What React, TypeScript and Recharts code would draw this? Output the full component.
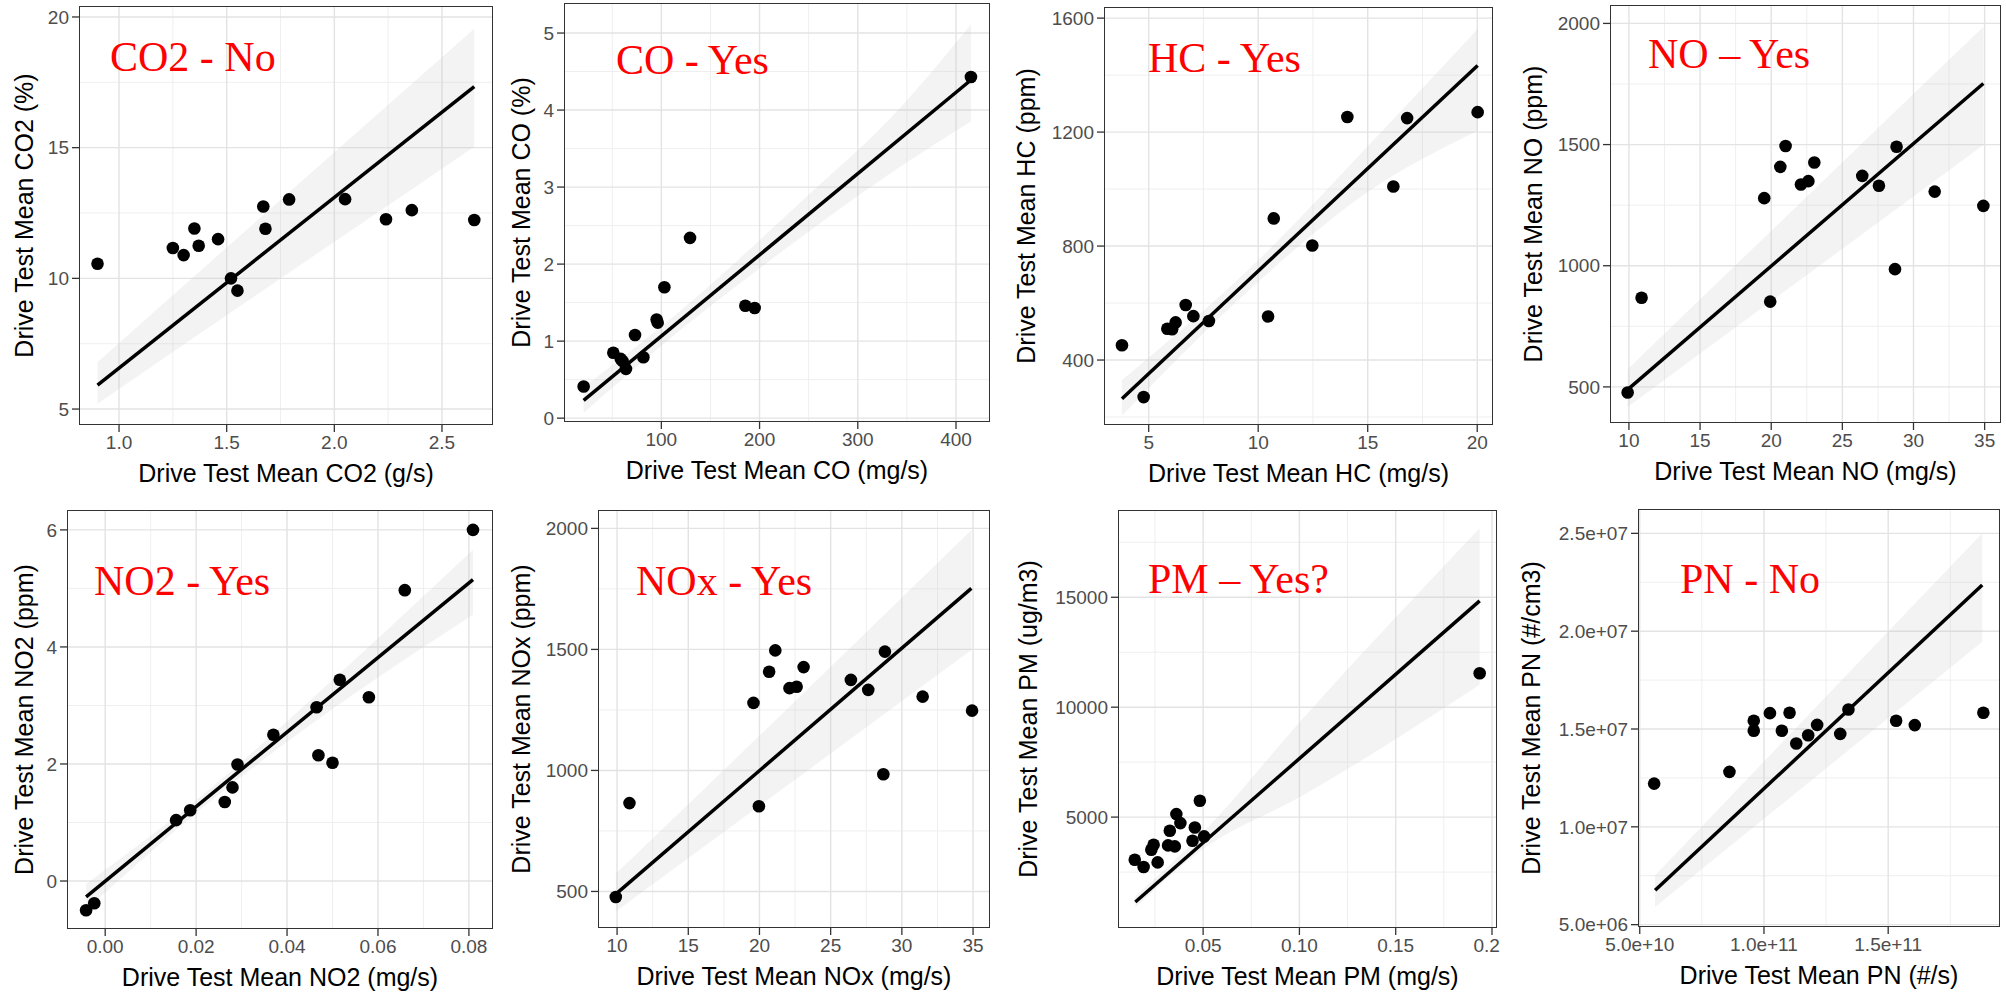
import React from "react";
import {
  ComposedChart,
  XAxis,
  YAxis,
  CartesianGrid,
  Line,
  Area,
  Scatter,
} from "recharts";

// ---- CO2 ----
const co2X = [0.9, 1.25, 1.3, 1.35, 1.37, 1.46, 1.52, 1.55, 1.67, 1.68, 1.79, 2.05, 2.24, 2.36, 2.65];
const co2Y = [10.56, 11.16, 10.89, 11.91, 11.25, 11.5, 10.0, 9.53, 12.75, 11.9, 13.02, 13.03, 12.26, 12.61, 12.23];
const co2FitX = [0.9, 2.65];
const co2FitY = [5.92, 17.34];
const co2BandX = [0.9, 1.6, 2.65];
const co2BandLo = [5.2, 9.15, 15.04];
const co2BandHi = [6.79, 11.91, 19.55];

// ---- CO ----
const coX = [20.9, 51.1, 58.6, 60.6, 64.0, 73.2, 81.7, 95.2, 96.3, 103.1, 129.2, 185.5, 195.0, 415.2];
const coY = [0.41, 0.85, 0.77, 0.74, 0.64, 1.08, 0.79, 1.28, 1.24, 1.7, 2.34, 1.46, 1.43, 4.43];
const coFitX = [20.9, 415.2];
const coFitY = [0.23, 4.39];
const coBandX = [20.9, 120, 250, 330, 415.2];
const coBandLo = [0.07, 1.15, 2.42, 3.15, 3.85];
const coBandHi = [0.4, 1.4, 2.9, 3.85, 5.11];

// ---- HC ----
const hcX = [3.78, 4.77, 5.85, 6.07, 6.23, 6.69, 7.04, 7.75, 10.45, 10.71, 12.47, 14.07, 16.17, 16.8, 20.02];
const hcY = [452, 270, 510, 508, 532, 593, 554, 537, 553, 897, 802, 1253, 1009, 1249, 1270];
const hcFitX = [3.78, 20.02];
const hcFitY = [264, 1434];
const hcBandX = [3.78, 10, 15, 20.02];
const hcBandLo = [205, 675, 990, 1205];
const hcBandHi = [330, 750, 1150, 1562];

// ---- NO ----
const noX = [9.91, 10.89, 19.51, 19.93, 20.64, 21.01, 22.09, 22.61, 23.03, 26.4, 27.57, 28.7, 28.81, 31.49, 34.91];
const noY = [477, 868, 1279, 852, 1408, 1494, 1335, 1349, 1426, 1371, 1330, 986, 1491, 1306, 1247];
const noFitX = [9.91, 34.91];
const noFitY = [489, 1752];
const noBandX = [9.91, 22, 34.91];
const noBandLo = [417, 940, 1498];
const noBandHi = [573, 1257, 1986];

// ---- NO2 ----
const no2X = [-0.0042, -0.0024, 0.0156, 0.0187, 0.0263, 0.028, 0.0291, 0.037, 0.0465, 0.0469, 0.05, 0.0516, 0.058, 0.0659, 0.0809];
const no2Y = [-0.5, -0.38, 1.04, 1.21, 1.35, 1.6, 1.99, 2.5, 2.97, 2.15, 2.02, 3.44, 3.14, 4.97, 6.0];
const no2FitX = [-0.0042, 0.0809];
const no2FitY = [-0.27, 5.15];
const no2BandX = [-0.0042, 0.025, 0.045, 0.0809];
const no2BandLo = [-0.49, 1.48, 2.66, 4.55];
const no2BandHi = [-0.05, 1.7, 3.08, 5.66];

// ---- NOx ----
const noxX = [9.91, 10.87, 19.58, 19.96, 20.68, 21.11, 22.11, 22.61, 23.1, 26.42, 27.64, 28.7, 28.81, 31.46, 34.93];
const noxY = [477, 865, 1279, 852, 1408, 1496, 1340, 1346, 1427, 1374, 1333, 984, 1491, 1305, 1247];
const noxFitX = [9.91, 34.88];
const noxFitY = [489, 1752];
const noxBandX = [9.91, 22, 34.88];
const noxBandLo = [417, 940, 1498];
const noxBandHi = [573, 1257, 1993];

// ---- PM ----
const pmX = [0.0145, 0.0191, 0.0231, 0.0243, 0.0264, 0.0318, 0.0327, 0.0353, 0.0361, 0.0382, 0.0445, 0.0457, 0.0483, 0.0505, 0.1936];
const pmY = [3061, 2727, 3515, 3742, 2939, 3712, 4379, 3667, 5136, 4727, 3924, 4530, 5742, 4121, 11545];
const pmFitX = [0.0148, 0.1936];
const pmFitY = [1136, 14833];
const pmBandX = [0.0148, 0.05, 0.1, 0.1936];
const pmBandLo = [900, 3550, 5900, 11015];
const pmBandHi = [1400, 4300, 9300, 18136];

// ---- PN ----
const pnX = [5.58e10, 8.61e10, 9.59e10, 9.59e10, 1.024e11, 1.072e11, 1.103e11, 1.13e11, 1.178e11, 1.214e11, 1.307e11, 1.34e11, 1.532e11, 1.607e11, 1.883e11];
const pnY = [1.221e7, 1.281e7, 1.542e7, 1.491e7, 1.581e7, 1.491e7, 1.583e7, 1.426e7, 1.468e7, 1.521e7, 1.475e7, 1.6e7, 1.542e7, 1.52e7, 1.583e7];
const pnFitX = [5.62e10, 1.8785e11];
const pnFitY = [6.76e6, 2.236e7];
const pnBandX = [5.62e10, 1.2e11, 1.8785e11];
const pnBandLo = [5.9e6, 1.247e7, 1.946e7];
const pnBandHi = [7.52e6, 1.6e7, 2.5e7];

// ticks
const co2XTicks = [1.0, 1.5, 2.0, 2.5];
const co2XMinor = [1.25, 1.75, 2.25];
const co2YTicks = [5, 10, 15, 20];
const co2YMinor = [7.5, 12.5, 17.5];
const coXTicks = [100, 200, 300, 400];
const coXMinor = [50, 150, 250, 350];
const coYTicks = [0, 1, 2, 3, 4, 5];
const coYMinor = [0.5, 1.5, 2.5, 3.5, 4.5];
const hcXTicks = [5, 10, 15, 20];
const hcXMinor = [7.5, 12.5, 17.5];
const hcYTicks = [400, 800, 1200, 1600];
const hcYMinor = [200, 600, 1000, 1400];
const noXTicks = [10, 15, 20, 25, 30, 35];
const noXMinor = [12.5, 17.5, 22.5, 27.5, 32.5];
const noYTicks = [500, 1000, 1500, 2000];
const noYMinor = [750, 1250, 1750];
const no2XTicks = [0, 0.02, 0.04, 0.06, 0.08];
const no2XMinor = [0.01, 0.03, 0.05, 0.07];
const no2YTicks = [0, 2, 4, 6];
const no2YMinor = [1, 3, 5];
const pmXTicks = [0.05, 0.1, 0.15, 0.2];
const pmXMinor = [0.025, 0.075, 0.125, 0.175];
const pmYTicks = [5000, 10000, 15000];
const pmYMinor = [2500, 7500, 12500, 17500];
const pnXTicks = [5e10, 1e11, 1.5e11];
const pnXMinor = [7.5e10, 1.25e11, 1.75e11];
const pnYTicks = [5e6, 1e7, 1.5e7, 2e7, 2.5e7];
const pnYMinor = [7.5e6, 1.25e7, 1.75e7, 2.25e7];

const SANS = '"Liberation Sans", Arial, Helvetica, sans-serif';
const SERIF = '"Liberation Serif", "Times New Roman", serif';

const fix = (d: number) => (v: number) => v.toFixed(d);
const plain = (v: number) => String(v);
const sci = (v: number) => {
  const [m, e] = v.toExponential(1).split("e");
  const sign = e[0] === "-" ? "-" : "+";
  const num = e.replace(/[+-]/, "");
  return `${m}e${sign}${num.padStart(2, "0")}`;
};

const pts = (xs: number[], ys: number[]) => xs.map((x, i) => ({ x, y: ys[i] }));
const band = (xs: number[], lo: number[], hi: number[]) =>
  xs.map((x, i) => ({ x, range: [lo[i], hi[i]] }));

type Box = { l: number; t: number; r: number; b: number };

const panels = [
  {
    px: 0, py: 0, pw: 500, box: { l: 79, t: 6, r: 493, b: 425 },
    xDomain: [0.814, 2.737], yDomain: [4.39, 20.42],
    xTicks: co2XTicks, xMinor: co2XMinor, yTicks: co2YTicks, yMinor: co2YMinor,
    xFmt: fix(1), yFmt: plain,
    points: pts(co2X, co2Y), fit: pts(co2FitX, co2FitY), band: band(co2BandX, co2BandLo, co2BandHi),
    label: "CO2 - No", labelX: 110, labelY: 71,
    xTitle: "Drive Test Mean CO2 (g/s)", yTitle: "Drive Test Mean CO2 (%)", yTitleX: 33,
  },
  {
    px: 500, py: 0, pw: 500, box: { l: 564, t: 3, r: 990, b: 422 },
    xDomain: [0.9, 434.6], yDomain: [-0.05, 5.39],
    xTicks: coXTicks, xMinor: coXMinor, yTicks: coYTicks, yMinor: coYMinor,
    xFmt: plain, yFmt: plain,
    points: pts(coX, coY), fit: pts(coFitX, coFitY), band: band(coBandX, coBandLo, coBandHi),
    label: "CO - Yes", labelX: 616, labelY: 74,
    xTitle: "Drive Test Mean CO (mg/s)", yTitle: "Drive Test Mean CO (%)", yTitleX: 530,
  },
  {
    px: 1000, py: 0, pw: 500, box: { l: 1104, t: 7, r: 1493, b: 425 },
    xDomain: [2.96, 20.72], yDomain: [172, 1639],
    xTicks: hcXTicks, xMinor: hcXMinor, yTicks: hcYTicks, yMinor: hcYMinor,
    xFmt: plain, yFmt: plain,
    points: pts(hcX, hcY), fit: pts(hcFitX, hcFitY), band: band(hcBandX, hcBandLo, hcBandHi),
    label: "HC - Yes", labelX: 1148, labelY: 72,
    xTitle: "Drive Test Mean HC (mg/s)", yTitle: "Drive Test Mean HC (ppm)", yTitleX: 1035,
  },
  {
    px: 1500, py: 0, pw: 506, box: { l: 1610, t: 5, r: 2001, b: 423 },
    xDomain: [8.67, 36.15], yDomain: [351, 2076],
    xTicks: noXTicks, xMinor: noXMinor, yTicks: noYTicks, yMinor: noYMinor,
    xFmt: plain, yFmt: plain,
    points: pts(noX, noY), fit: pts(noFitX, noFitY), band: band(noBandX, noBandLo, noBandHi),
    label: "NO \u2013 Yes", labelX: 1648, labelY: 68,
    xTitle: "Drive Test Mean NO (mg/s)", yTitle: "Drive Test Mean NO (ppm)", yTitleX: 1542,
  },
  {
    px: 0, py: 495, pw: 500, box: { l: 67, t: 510, r: 493, b: 929 },
    xDomain: [-0.0084, 0.0853], yDomain: [-0.82, 6.34],
    xTicks: no2XTicks, xMinor: no2XMinor, yTicks: no2YTicks, yMinor: no2YMinor,
    xFmt: fix(2), yFmt: plain,
    points: pts(no2X, no2Y), fit: pts(no2FitX, no2FitY), band: band(no2BandX, no2BandLo, no2BandHi),
    label: "NO2 - Yes", labelX: 94, labelY: 595,
    xTitle: "Drive Test Mean NO2 (mg/s)", yTitle: "Drive Test Mean NO2 (ppm)", yTitleX: 33,
  },
  {
    px: 500, py: 495, pw: 500, box: { l: 598, t: 510, r: 990, b: 928 },
    xDomain: [8.66, 36.19], yDomain: [349, 2076],
    xTicks: noXTicks, xMinor: noXMinor, yTicks: noYTicks, yMinor: noYMinor,
    xFmt: plain, yFmt: plain,
    points: pts(noxX, noxY), fit: pts(noxFitX, noxFitY), band: band(noxBandX, noxBandLo, noxBandHi),
    label: "NOx - Yes", labelX: 636, labelY: 595,
    xTitle: "Drive Test Mean NOx (mg/s)", yTitle: "Drive Test Mean NOx (ppm)", yTitleX: 530,
  },
  {
    px: 1000, py: 495, pw: 500, box: { l: 1118, t: 510, r: 1497, b: 928 },
    xDomain: [0.0058, 0.2026], yDomain: [-45, 18970],
    xTicks: pmXTicks, xMinor: pmXMinor, yTicks: pmYTicks, yMinor: pmYMinor,
    xFmt: fix(2), yFmt: plain,
    points: pts(pmX, pmY), fit: pts(pmFitX, pmFitY), band: band(pmBandX, pmBandLo, pmBandHi),
    label: "PM \u2013 Yes?", labelX: 1148, labelY: 593,
    xTitle: "Drive Test Mean PM (mg/s)", yTitle: "Drive Test Mean PM (ug/m3)", yTitleX: 1037,
  },
  {
    px: 1500, py: 495, pw: 506, box: { l: 1638, t: 509, r: 2000, b: 927 },
    xDomain: [4.93e10, 1.95e11], yDomain: [4.88e6, 2.6245e7],
    xTicks: pnXTicks, xMinor: pnXMinor, yTicks: pnYTicks, yMinor: pnYMinor,
    xFmt: sci, yFmt: sci,
    points: pts(pnX, pnY), fit: pts(pnFitX, pnFitY), band: band(pnBandX, pnBandLo, pnBandHi),
    label: "PN - No", labelX: 1680, labelY: 593,
    xTitle: "Drive Test Mean PN (#/s)", yTitle: "Drive Test Mean PN (#/cm3)", yTitleX: 1540,
  },
];

const dot = (props: any) => <circle cx={props.cx} cy={props.cy} r={6.3} fill="#000" />;

function Panel({ p }: { p: (typeof panels)[number] }) {
  const box: Box = p.box;
  const h = box.b - p.py + 40;
  return (
    <div style={{ position: "absolute", left: p.px, top: p.py, width: p.pw, height: h }}>
      <ComposedChart
        width={p.pw}
        height={h}
        margin={{ top: box.t - p.py, right: p.px + p.pw - box.r, bottom: 0, left: 0 }}
      >
        <CartesianGrid horizontalValues={p.yMinor} verticalValues={p.xMinor} stroke="#efefef" strokeWidth={1} />
        <CartesianGrid horizontalValues={p.yTicks} verticalValues={p.xTicks} stroke="#e3e3e3" strokeWidth={1.4} />
        <XAxis
          type="number"
          dataKey="x"
          domain={p.xDomain}
          ticks={p.xTicks}
          allowDataOverflow
          interval={0}
          tickFormatter={p.xFmt}
          height={40}
          tickSize={7}
          tickMargin={4}
          axisLine={false}
          tickLine={{ stroke: "#333", strokeWidth: 1.3 }}
          tick={{ fill: "#4d4d4d", fontSize: 19, fontFamily: SANS }}
        />
        <YAxis
          type="number"
          domain={p.yDomain}
          ticks={p.yTicks}
          allowDataOverflow
          interval={0}
          tickFormatter={p.yFmt}
          width={box.l - p.px}
          tickSize={7}
          tickMargin={3}
          axisLine={false}
          tickLine={{ stroke: "#333", strokeWidth: 1.3 }}
          tick={{ fill: "#4d4d4d", fontSize: 19, fontFamily: SANS }}
        />
        <Area
          data={p.band}
          dataKey="range"
          type="monotone"
          stroke="none"
          fill="#c8c8c8"
          fillOpacity={0.22}
          isAnimationActive={false}
        />
        <Line
          data={p.fit}
          dataKey="y"
          type="linear"
          stroke="#000"
          strokeWidth={3.5}
          dot={false}
          isAnimationActive={false}
        />
        <Scatter data={p.points} dataKey="y" fill="#000" shape={dot} isAnimationActive={false} />
      </ComposedChart>
      <div
        style={{
          position: "absolute",
          left: box.l - p.px,
          top: box.t - p.py,
          width: box.r - box.l,
          height: box.b - box.t,
          border: "1.5px solid #333",
          boxSizing: "border-box",
          pointerEvents: "none",
        }}
      />
    </div>
  );
}

export default function App() {
  return (
    <div style={{ position: "absolute", left: 0, top: 0, width: 2006, height: 993, background: "#fff", overflow: "hidden" }}>
      {panels.map((p, i) => (
        <Panel key={i} p={p} />
      ))}
      <svg width={2006} height={993} style={{ position: "absolute", left: 0, top: 0, pointerEvents: "none" }}>
        {panels.map((p, i) => {
          const cx = (p.box.l + p.box.r) / 2;
          const cy = (p.box.t + p.box.b) / 2;
          return (
            <g key={i}>
              <text x={cx} y={p.box.b + 57} textAnchor="middle" fontFamily={SANS} fontSize={25} fill="#000">
                {p.xTitle}
              </text>
              <text
                x={p.yTitleX}
                y={cy}
                textAnchor="middle"
                fontFamily={SANS}
                fontSize={25}
                fill="#000"
                transform={`rotate(-90, ${p.yTitleX}, ${cy})`}
              >
                {p.yTitle}
              </text>
              <text x={p.labelX} y={p.labelY} fontFamily={SERIF} fontSize={42} fill="#ff0000">
                {p.label}
              </text>
            </g>
          );
        })}
      </svg>
    </div>
  );
}
